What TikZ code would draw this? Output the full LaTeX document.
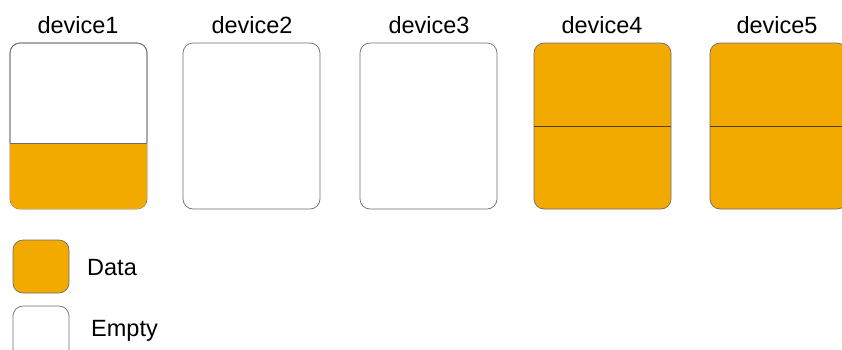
\documentclass[tikz,border=0pt]{standalone}
\usepackage{fontspec}
\setmainfont{Liberation Sans}
\usetikzlibrary{calc}
\definecolor{dataorange}{HTML}{F2AA00}
\definecolor{edgegray}{HTML}{6E6E6E}
\definecolor{splitline}{HTML}{5A3C10}
\begin{document}
\begin{tikzpicture}[x=1pt,y=-1pt,
  devbox/.style={draw=edgegray, line width=0.7pt, rounded corners=10pt, minimum width=137pt, minimum height=166pt, inner sep=0pt, outer sep=0pt, anchor=north west},
  legbox/.style={draw=edgegray, line width=0.7pt, rounded corners=10pt, minimum width=56pt, minimum height=53pt, inner sep=0pt, outer sep=0pt, anchor=north west},
  lab/.style={font=\fontsize{23.5}{26}\selectfont, inner sep=0pt, anchor=base},
  leglab/.style={font=\fontsize{23.5}{26}\selectfont, inner sep=0pt, anchor=base west}]
\useasboundingbox (0,0) rectangle (842,349);
\clip (0,0) rectangle (842,349);
% device 1
\node[devbox, fill=white] (d1) at (10,43) {};
\begin{scope}
  \clip[rounded corners=10pt] (d1.north west) rectangle (d1.south east);
  \fill[dataorange] (10,143) rectangle (147,209);
\end{scope}
\draw[edgegray, line width=0.7pt] (d1.west |- 0,143) -- (d1.east |- 0,143);
\draw[edgegray, line width=0.7pt, rounded corners=10pt] (10,143) -- (d1.north west) -- (d1.north east) -- (147,143);
% devices 2,3
\node[devbox, fill=white] (d2) at (183,43) {};
\node[devbox, fill=white] (d3) at (360,43) {};
% devices 4,5
\node[devbox, fill=dataorange] (d4) at (534,43) {};
\draw[splitline, line width=0.7pt] (d4.west) -- (d4.east);
\node[devbox, fill=dataorange] (d5) at (710,43) {};
\draw[splitline, line width=0.7pt] (d5.west) -- (d5.east);
% labels
\node[lab] (l1) at (78,33) {device1};
\node[lab] (l2) at (252,33) {device2};
\node[lab] (l3) at (429,33) {device3};
\node[lab] (l4) at (602,33) {device4};
\node[lab] (l5) at (777,33) {device5};
% legend
\node[legbox, fill=dataorange] (ld) at (13,240) {};
\node[leglab] (ldt) at (87,275) {Data};
\node[legbox, fill=white] (le) at (13,306) {};
\node[leglab] (let) at (91,336) {Empty};
\end{tikzpicture}
\end{document}
